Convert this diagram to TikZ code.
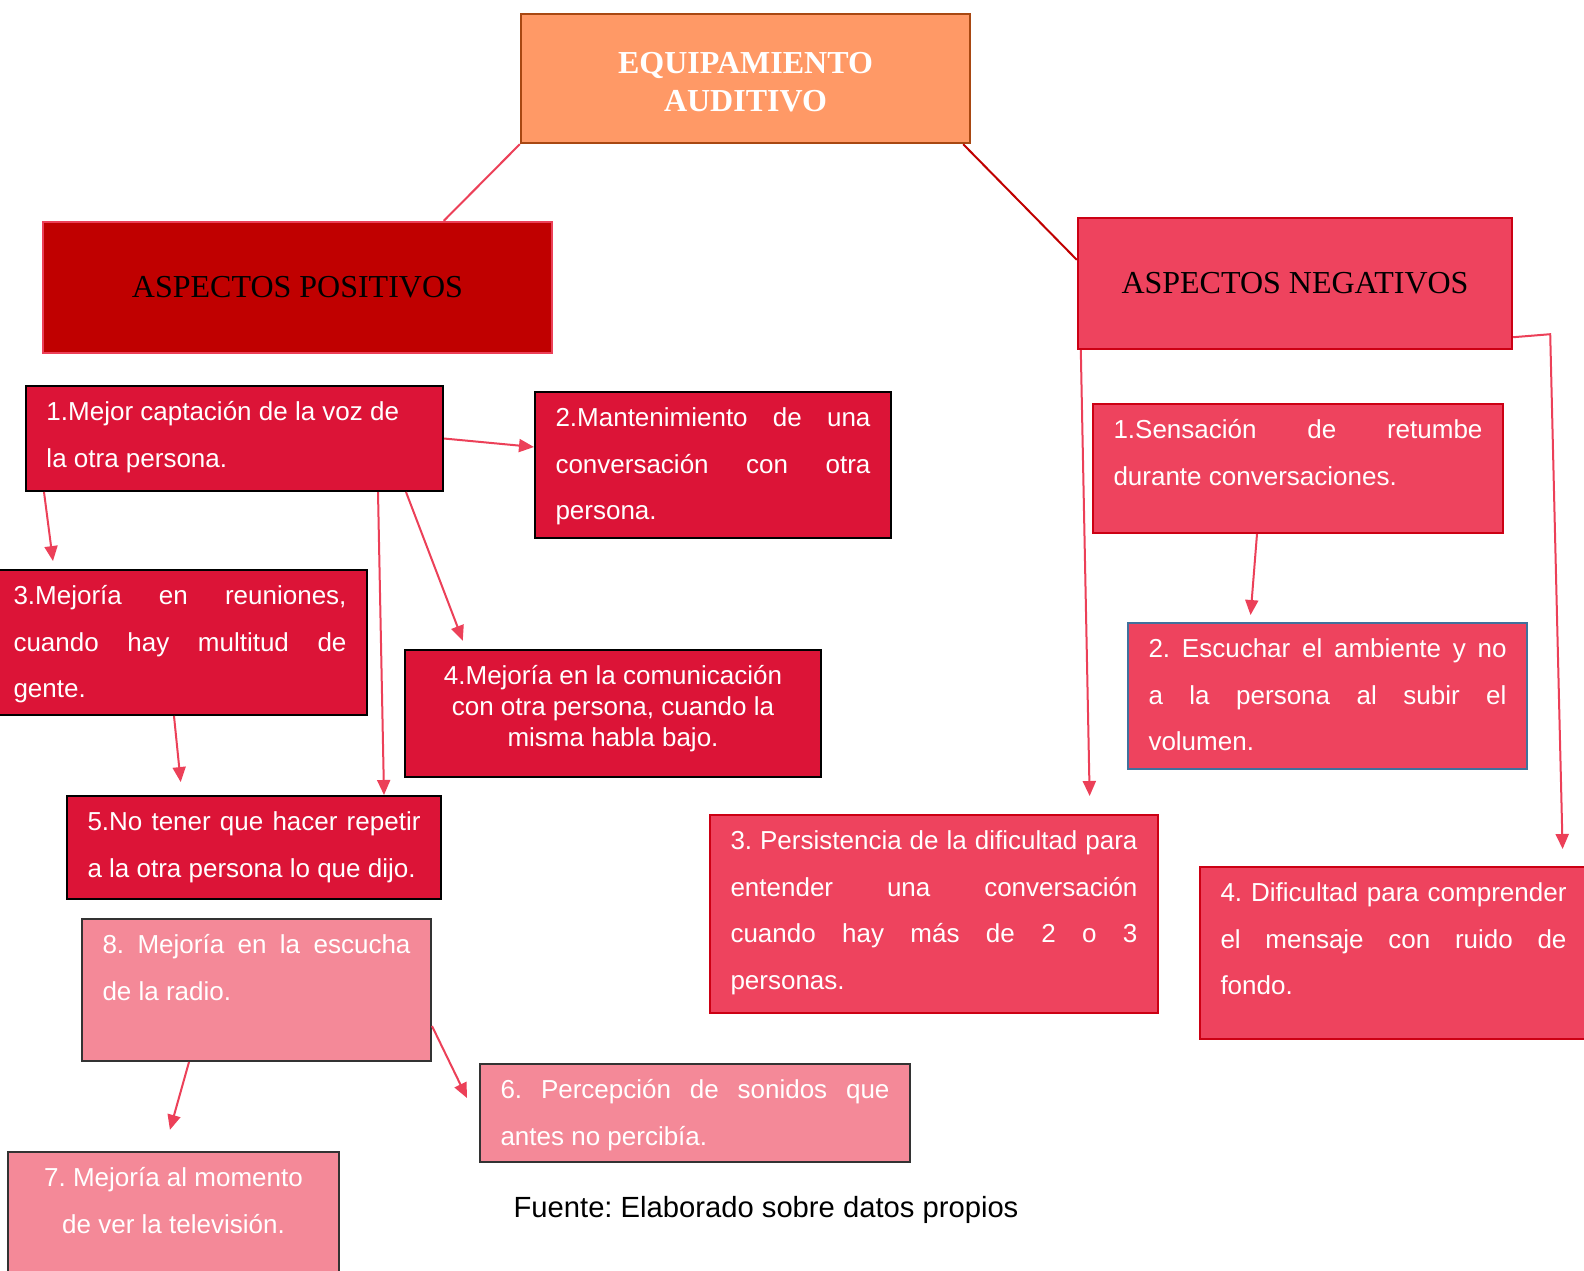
\documentclass[tikz,border=0pt]{standalone}
\usepackage{fontspec}
\setmainfont{Liberation Sans}
\newfontfamily\headfont{Liberation Serif}
\usepackage{tikz}
\usetikzlibrary{arrows.meta}
\frenchspacing

\definecolor{titlefill}{RGB}{255,153,102}
\definecolor{titledraw}{RGB}{168,72,18}
\definecolor{darkred}{RGB}{192,0,0}
\definecolor{rosered}{RGB}{238,67,94}
\definecolor{linkred}{RGB}{236,64,88}
\definecolor{borderred}{RGB}{204,0,20}
\definecolor{crimson}{RGB}{220,20,55}
\definecolor{lightrose}{RGB}{244,137,152}
\definecolor{steelblue}{RGB}{65,113,156}

\newcommand{\boxtxt}[3]{\parbox[c][#2][t]{#1}{\rule{0pt}{17.4pt}#3}}
\newcommand{\boxctr}[3]{\parbox[c][#2][t]{#1}{\centering\rule{0pt}{17.4pt}#3}}

\tikzset{
  headbox/.style={draw=#1, line width=1.2pt, inner sep=0pt, align=center,
    font=\headfont\fontsize{16}{19.2}\selectfont},
  cardbox/.style={draw=black, line width=1pt, fill=crimson, text=white,
    inner xsep=10.25pt, inner ysep=0pt, anchor=north west,
    font=\fontsize{13}{23.2}\selectfont},
  softbox/.style={cardbox, fill=lightrose, draw=black!80},
  negbox/.style={cardbox, fill=rosered, draw=borderred},
  link/.style={draw=linkred, line width=1pt},
  arr/.style={link, -{Triangle[length=7.5pt,width=6.5pt]}}
}

\begin{document}
\begin{tikzpicture}[x=0.5pt, y=-0.5pt]
\useasboundingbox (0,0) rectangle (1584,1270);
\fill[white] (0,0) rectangle (1584,1270);
\clip (0,0) rectangle (1584,1270);

\node[headbox=titledraw, fill=titlefill, text=white, minimum width=224.5pt, minimum height=64.5pt,
  font=\headfont\bfseries\fontsize{16}{19.2}\selectfont] (title) at (745.5,78.5) {\rule{0pt}{14pt}EQUIPAMIENTO\\AUDITIVO};
\node[headbox=linkred, fill=darkred, minimum width=254.5pt, minimum height=65.5pt] (pos) at (297.5,287.5) {ASPECTOS POSITIVOS};
\node[headbox=borderred, fill=rosered, minimum width=217pt, minimum height=65.5pt] (neg) at (1295,283.5) {ASPECTOS NEGATIVOS};

\node[cardbox] (p1) at (25,385) {\boxtxt{188pt}{52.5pt}{1.Mejor captación de la voz de\newline la otra persona.}};
\node[cardbox] (p2) at (534,391) {\boxtxt{157.5pt}{73pt}{2.Mantenimiento de una\linebreak conversación con otra\linebreak persona.}};
\node[cardbox] (p3) at (-8,569) {\boxtxt{166.5pt}{72.5pt}{3.Mejoría en reuniones,\linebreak cuando hay multitud de\linebreak gente.}};
\node[cardbox, font=\fontsize{13}{15.4}\selectfont] (p4) at (404,649) {\boxctr{187.5pt}{63.5pt}{4.Mejoría en la comunicación\\ con otra persona, cuando la\\ misma habla bajo.}};
\node[cardbox] (p5) at (66,795) {\boxtxt{166.5pt}{51.5pt}{5.No tener que hacer repetir\linebreak a la otra persona lo que dijo.}};
\node[softbox] (p8) at (81,918) {\boxtxt{154pt}{71pt}{8. Mejoría en la escucha\linebreak de la radio.}};
\node[softbox] (p6) at (479,1063) {\boxtxt{194.5pt}{49pt}{6. Percepción de sonidos que\linebreak antes no percibía.}};
\node[softbox] (p7) at (7,1151) {\boxctr{145pt}{64.5pt}{7. Mejoría al momento\\ de ver la televisión.}};

\node[negbox] (n1) at (1092,403) {\boxtxt{184.5pt}{64.5pt}{1.Sensación de retumbe\linebreak durante conversaciones.}};
\node[negbox, draw=steelblue] (n2) at (1127,622) {\boxtxt{179pt}{73pt}{2. Escuchar el ambiente y no\linebreak a la persona al subir el\linebreak volumen.}};
\node[negbox] (n3) at (709,814) {\boxtxt{203.5pt}{99pt}{3. Persistencia de la dificultad para\linebreak entender una conversación\linebreak cuando hay más de 2 o 3\linebreak personas.}};
\node[negbox] (n4) at (1199,866) {\boxtxt{173pt}{86pt}{4. Dificultad para comprender\linebreak el mensaje con ruido de\linebreak fondo.}};

\node (src) at (766,1210) {\fontsize{14.6}{17}\selectfont Fuente: Elaborado sobre datos propios};

\draw[link] (title.south west) -- ([shift={(402,0)}]pos.north west);
\draw[link, draw=darkred] ([shift={(-8,0)}]title.south east) -- ([shift={(0,43)}]neg.north west);
\draw[arr] (p1.east) -- ([shift={(0,56)}]p2.north west);
\draw[arr, shorten >=4pt] ([shift={(19,0)}]p1.south west) -- ([shift={(62,0)}]p3.north west);
\draw[arr, shorten >=4.5pt] ([shift={(-38,0)}]p1.south east) -- ([shift={(62,0)}]p4.north west);
\draw[arr] ([shift={(-66,0)}]p1.south east) -- ([shift={(318,0)}]p5.north west);
\draw[arr, shorten >=6.5pt] ([shift={(182,0)}]p3.south west) -- ([shift={(116,0)}]p5.north west);
\draw[arr, shorten >=11pt] ([shift={(108,0)}]p8.south west) -- ([shift={(157,0)}]p7.north west);
\draw[arr] ([shift={(0,108)}]p8.north east) -- ([shift={(-12,35)}]p6.north west);
\draw[arr, shorten >=9pt] ([shift={(4,0)}]neg.south west) -- ([shift={(381,0)}]n3.north west);
\draw[arr, shorten >=8.5pt] ([shift={(0,-13)}]neg.south east) -- ++(37,-3) -- ([shift={(364,0)}]n4.north west);
\draw[arr, shorten >=3.5pt] ([shift={(165,0)}]n1.south west) -- ([shift={(123,0)}]n2.north west);
\end{tikzpicture}
\end{document}
